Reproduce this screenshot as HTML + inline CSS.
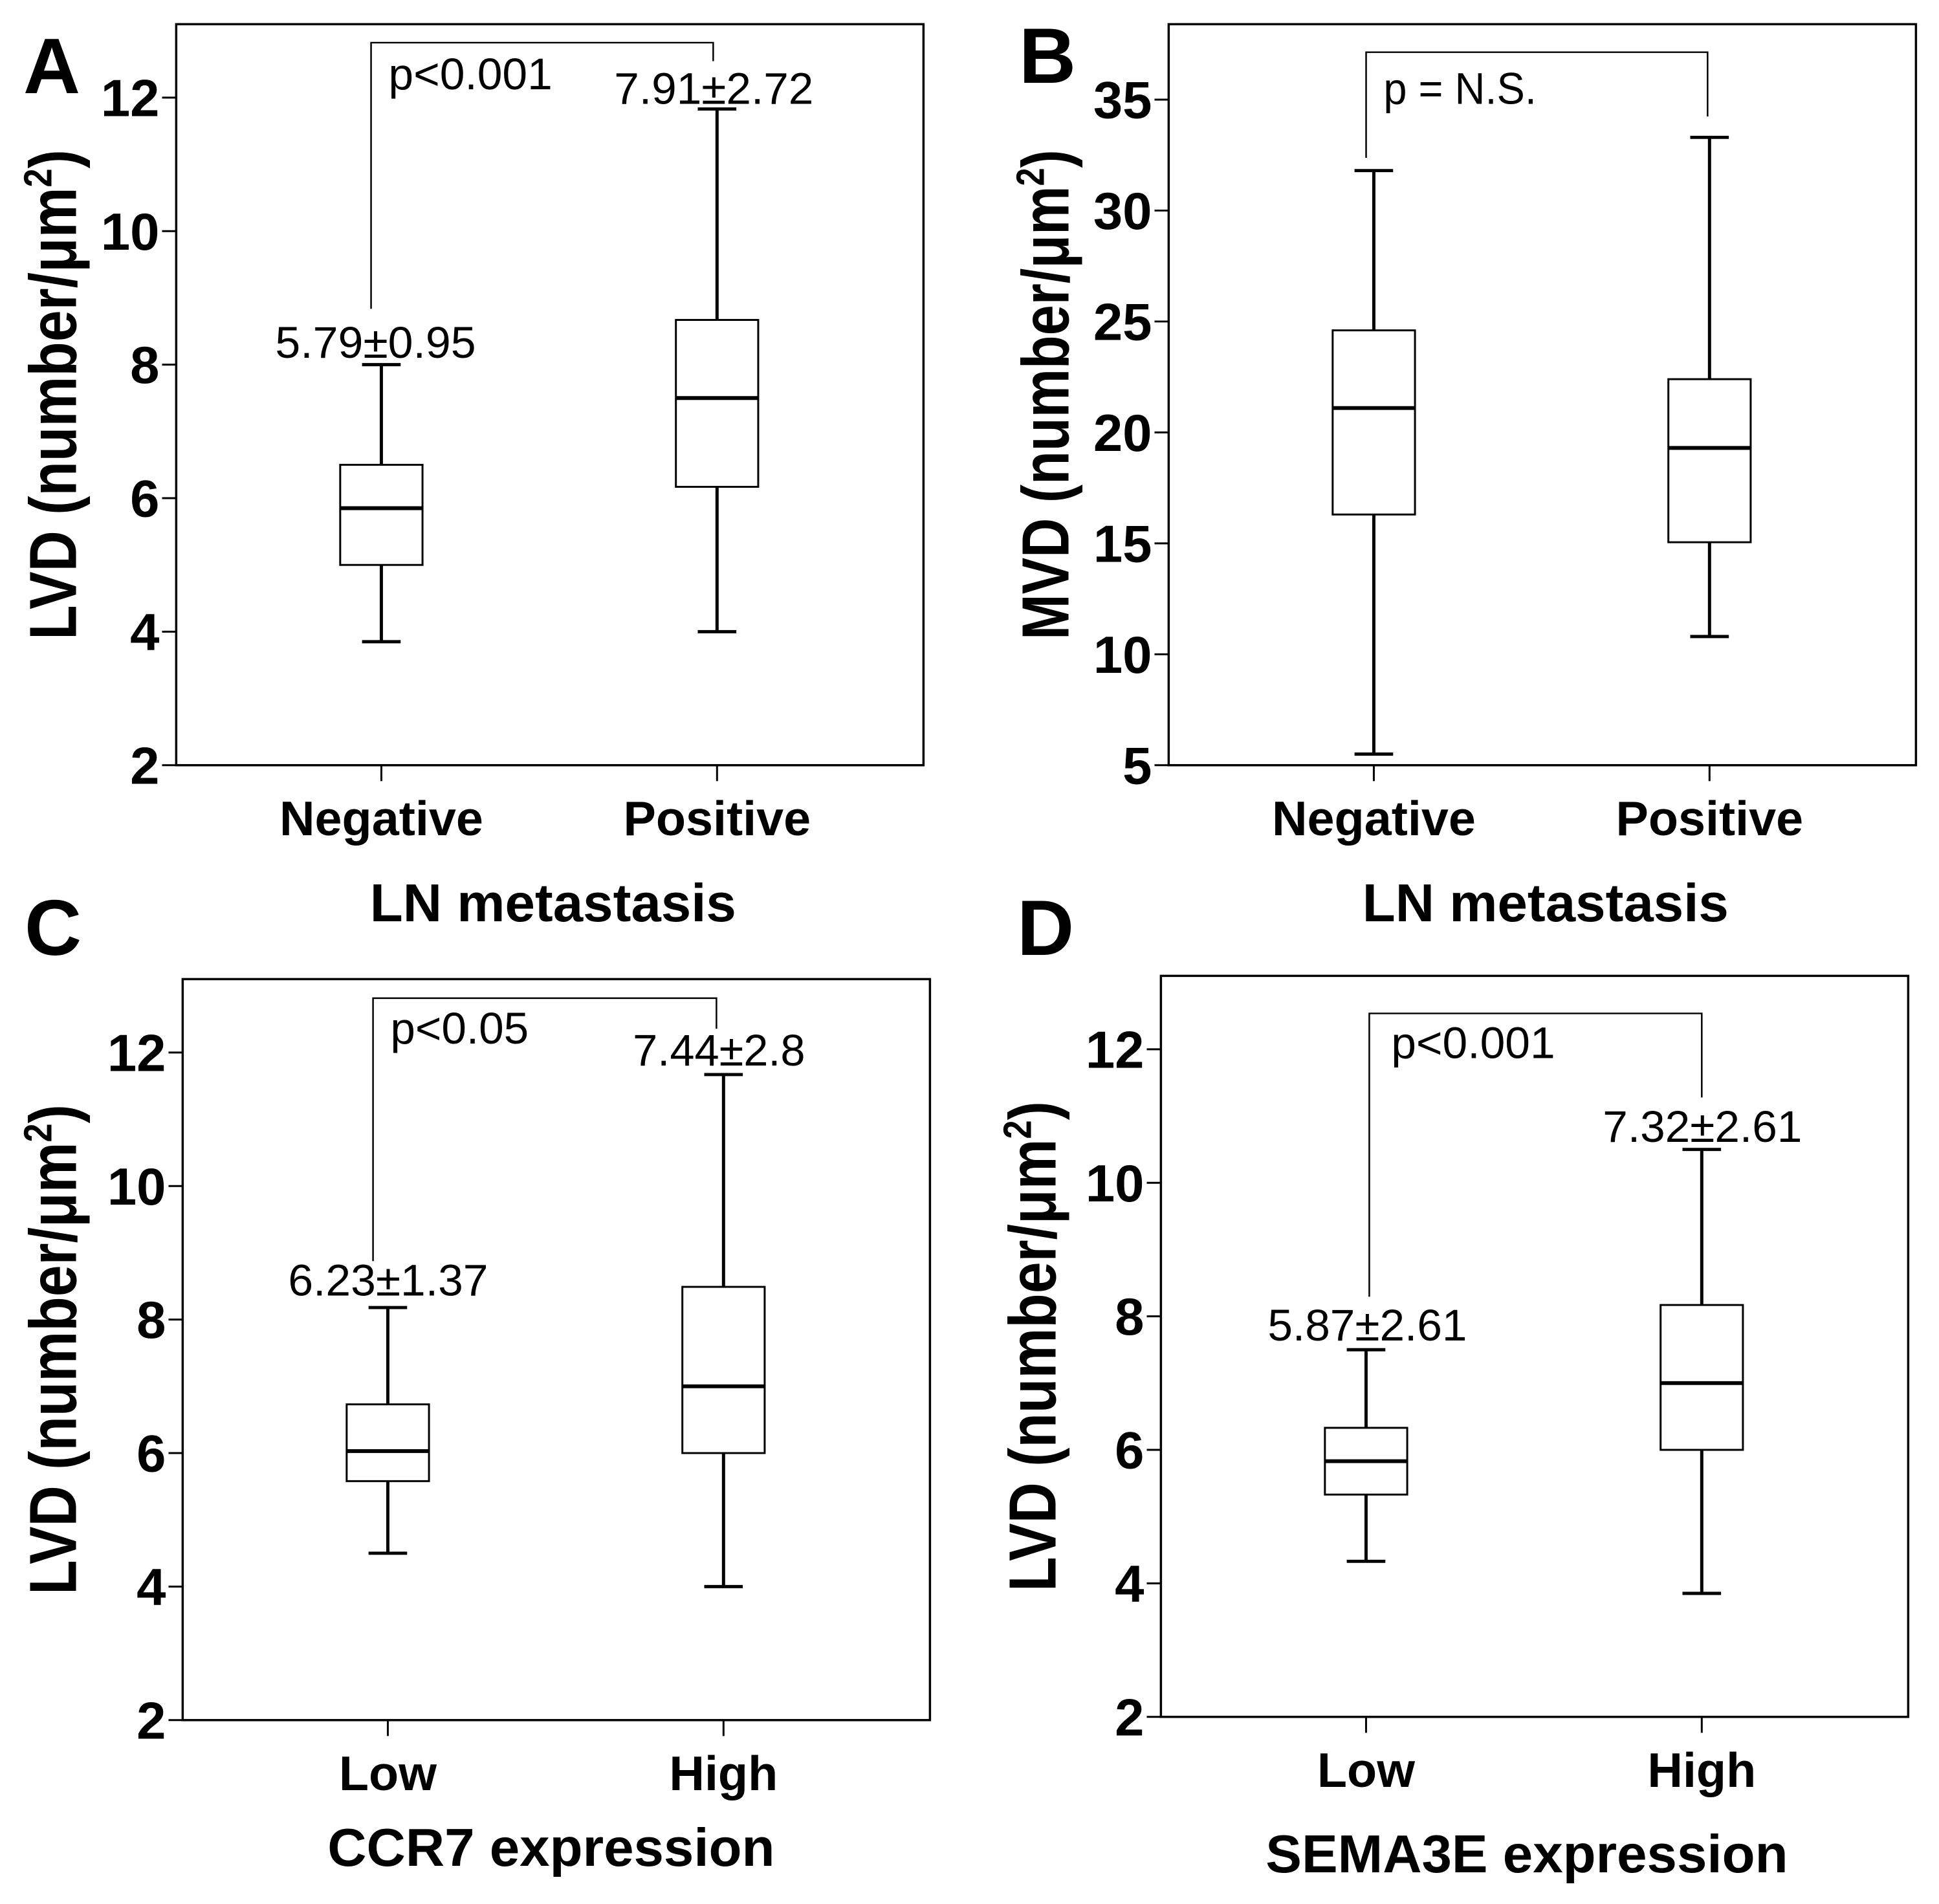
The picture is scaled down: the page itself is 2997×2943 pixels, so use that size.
<!DOCTYPE html>
<html><head><meta charset="utf-8"><style>
html,body{margin:0;padding:0;background:#fff}
svg{display:block}
.b{font-family:"Liberation Sans",sans-serif;font-weight:bold;fill:#000}
.n{font-family:"Liberation Sans",sans-serif;fill:#000}
</style></head><body>
<svg id="fig" width="2997" height="2943" viewBox="0 0 2997 2943" xmlns="http://www.w3.org/2000/svg"></svg>
<script>
// Panel A data
const catsA = ["Negative","Positive"];
const minA = [3.85, 4.0], q1A = [5.0, 6.17], medA = [5.85, 7.5], q3A = [6.5, 8.67], maxA = [8.0, 11.83];
const ticksA = [2,4,6,8,10,12];
// Panel B data
const catsB = ["Negative","Positive"];
const minB = [5.5, 10.8], q1B = [16.3, 15.05], medB = [21.1, 19.3], q3B = [24.6, 22.4], maxB = [31.8, 33.3];
const ticksB = [5,10,15,20,25,30,35];
// Panel C data
const catsC = ["Low","High"];
const minC = [4.5, 4.0], q1C = [5.58, 6.0], medC = [6.03, 7.0], q3C = [6.73, 8.49], maxC = [8.18, 11.67];
const ticksC = [2,4,6,8,10,12];
// Panel D data
const catsD = ["Low","High"];
const minD = [4.33, 3.85], q1D = [5.33, 6.0], medD = [5.83, 7.0], q3D = [6.33, 8.17], maxD = [7.5, 10.5];
const ticksD = [2,4,6,8,10,12];

const NS = "http://www.w3.org/2000/svg";
const fig = document.getElementById('fig');
function mk(tag, attrs, parent, text){
  const e = document.createElementNS(NS, tag);
  for (const k in attrs) e.setAttribute(k, attrs[k]);
  if (text !== undefined) e.textContent = text;
  parent.appendChild(e);
  return e;
}
const L=274, R=1436, T=38, B=1202;
const centers = [593, 1115];

function panel(name, dx, dy, cats, mn, q1, md, q3, mx, ticks, ymin, ymax, cfg){
  const g = mk('g', {transform:`translate(${dx},${dy}) scale(0.994,0.984)`}, fig);
  
  
  const y = v => B - (v - ymin) / (ymax - ymin) * (B - T);
  const frame = mk('rect', {x:L, y:T, width:R-L, height:B-T, fill:'none', stroke:'#000', 'stroke-width':3.5}, g);
  
  
  ticks.forEach(t => {
    const tl = mk('line', {x1:L-22, x2:L, y1:y(t), y2:y(t), stroke:'#000', 'stroke-width':3}, g);
    
    
    const tx = mk('text', {x:L-26, y:y(t)+29, 'text-anchor':'end', 'font-size':82, class:'b'}, g, String(t));
    
    
  });
  cats.forEach((c, i) => {
    const cx = centers[i];
    const xt = mk('line', {x1:cx, x2:cx, y1:B, y2:B+25, stroke:'#000', 'stroke-width':3}, g);
    
    
    const xl = mk('text', {x:cx, y:B+110, 'text-anchor':'middle', 'font-size':76, class:'b'}, g, c);
    
    
    const wl = mk('line', {x1:cx, x2:cx, y1:y(mn[i]), y2:y(q1[i]), stroke:'#000', 'stroke-width':5}, g);
    
    
    const wh = mk('line', {x1:cx, x2:cx, y1:y(q3[i]), y2:y(mx[i]), stroke:'#000', 'stroke-width':5}, g);
    
    
    const cl = mk('line', {x1:cx-30, x2:cx+30, y1:y(mn[i]), y2:y(mn[i]), stroke:'#000', 'stroke-width':5}, g);
    
    
    const ch = mk('line', {x1:cx-30, x2:cx+30, y1:y(mx[i]), y2:y(mx[i]), stroke:'#000', 'stroke-width':5}, g);
    
    
    const bx = mk('rect', {x:cx-64, y:y(q3[i]), width:128, height:y(q1[i])-y(q3[i]), fill:'#fff', stroke:'#000', 'stroke-width':3}, g);
    
    
    const ml = mk('line', {x1:cx-64, x2:cx+64, y1:y(md[i]), y2:y(md[i]), stroke:'#000', 'stroke-width':6}, g);
    
    
  });
  const br = mk('polyline', {points:`${cfg.bl[0]},${cfg.bl[1]} ${cfg.bl[0]},${cfg.top} ${cfg.br[0]},${cfg.top} ${cfg.br[0]},${cfg.br[1]}`, fill:'none', stroke:'#000', 'stroke-width':2.5}, g);
  
  
  cfg.texts.forEach(t => {
    const e = mk('text', {x:t[0], y:t[1], 'font-size':70, class:'n', textLength:t[2], lengthAdjust:'spacingAndGlyphs'}, g, t[3]);
    
    
  });
  const yl = mk('text', {x:0, y:0, transform:`translate(${cfg.ylx},620) rotate(-90)`, 'text-anchor':'middle', 'font-size':104, class:'b', textLength:770, lengthAdjust:'spacingAndGlyphs'}, g);
  
  
  yl.appendChild(document.createTextNode(cfg.ylab + ' (number/μm'));
  mk('tspan', {'font-size':62, dy:-38}, yl, '2');
  mk('tspan', {dy:38}, yl, ')');
  const xt = mk('text', {x:cfg.xtx, y:cfg.xty, 'text-anchor':'middle', 'font-size':84, class:'b'}, g, cfg.xtitle);
  
  
}

panel('panel-a', 0, 0, catsA, minA, q1A, medA, q3A, maxA, ticksA, 2, 13.1, {
  top:67, bl:[577,485], br:[1109,96],
  texts:[[604,140,255,'p<0.001'],[955,163,310,'7.91±2.72'],[428,562,312,'5.79±0.95']],
  ylx:118, ylab:'LVD', xtx:860, xty:1447, xtitle:'LN metastasis'});
panel('panel-b', 1534, 0, catsB, minB, q1B, medB, q3B, maxB, ticksB, 5, 38.4, {
  top:82, bl:[581,248], br:[1112,183],
  texts:[[608,163,238,'p = N.S.']],
  ylx:118, ylab:'MVD', xtx:860, xty:1447, xtitle:'LN metastasis'});
panel('panel-c', 10, 1476, catsC, minC, q1C, medC, q3C, maxC, ticksC, 2, 13.1, {
  top:68, bl:[570,481], br:[1104,116],
  texts:[[597,139,215,'p<0.05'],[974,174,268,'7.44±2.8'],[438,535,311,'6.23±1.37']],
  ylx:108, ylab:'LVD', xtx:847, xty:1431, xtitle:'CCR7 expression'});
panel('panel-d', 1522, 1471, catsD, minD, q1D, medD, q3D, maxD, ticksD, 2, 13.1, {
  top:97, bl:[598,542], br:[1115,229],
  texts:[[632,167,255,'p<0.001'],[961,299,310,'7.32±2.61'],[440,611,310,'5.87±2.61']],
  ylx:110, ylab:'LVD', xtx:843, xty:1446, xtitle:'SEMA3E expression'});

[['A',36,144],['B',1575,128],['C',38,1476],['D',1572,1476]].forEach(p => {
  const e = mk('text', {x:p[1], y:p[2], 'font-size':122, class:'b'}, fig, p[0]);
  
  
});
</script>
</body></html>
